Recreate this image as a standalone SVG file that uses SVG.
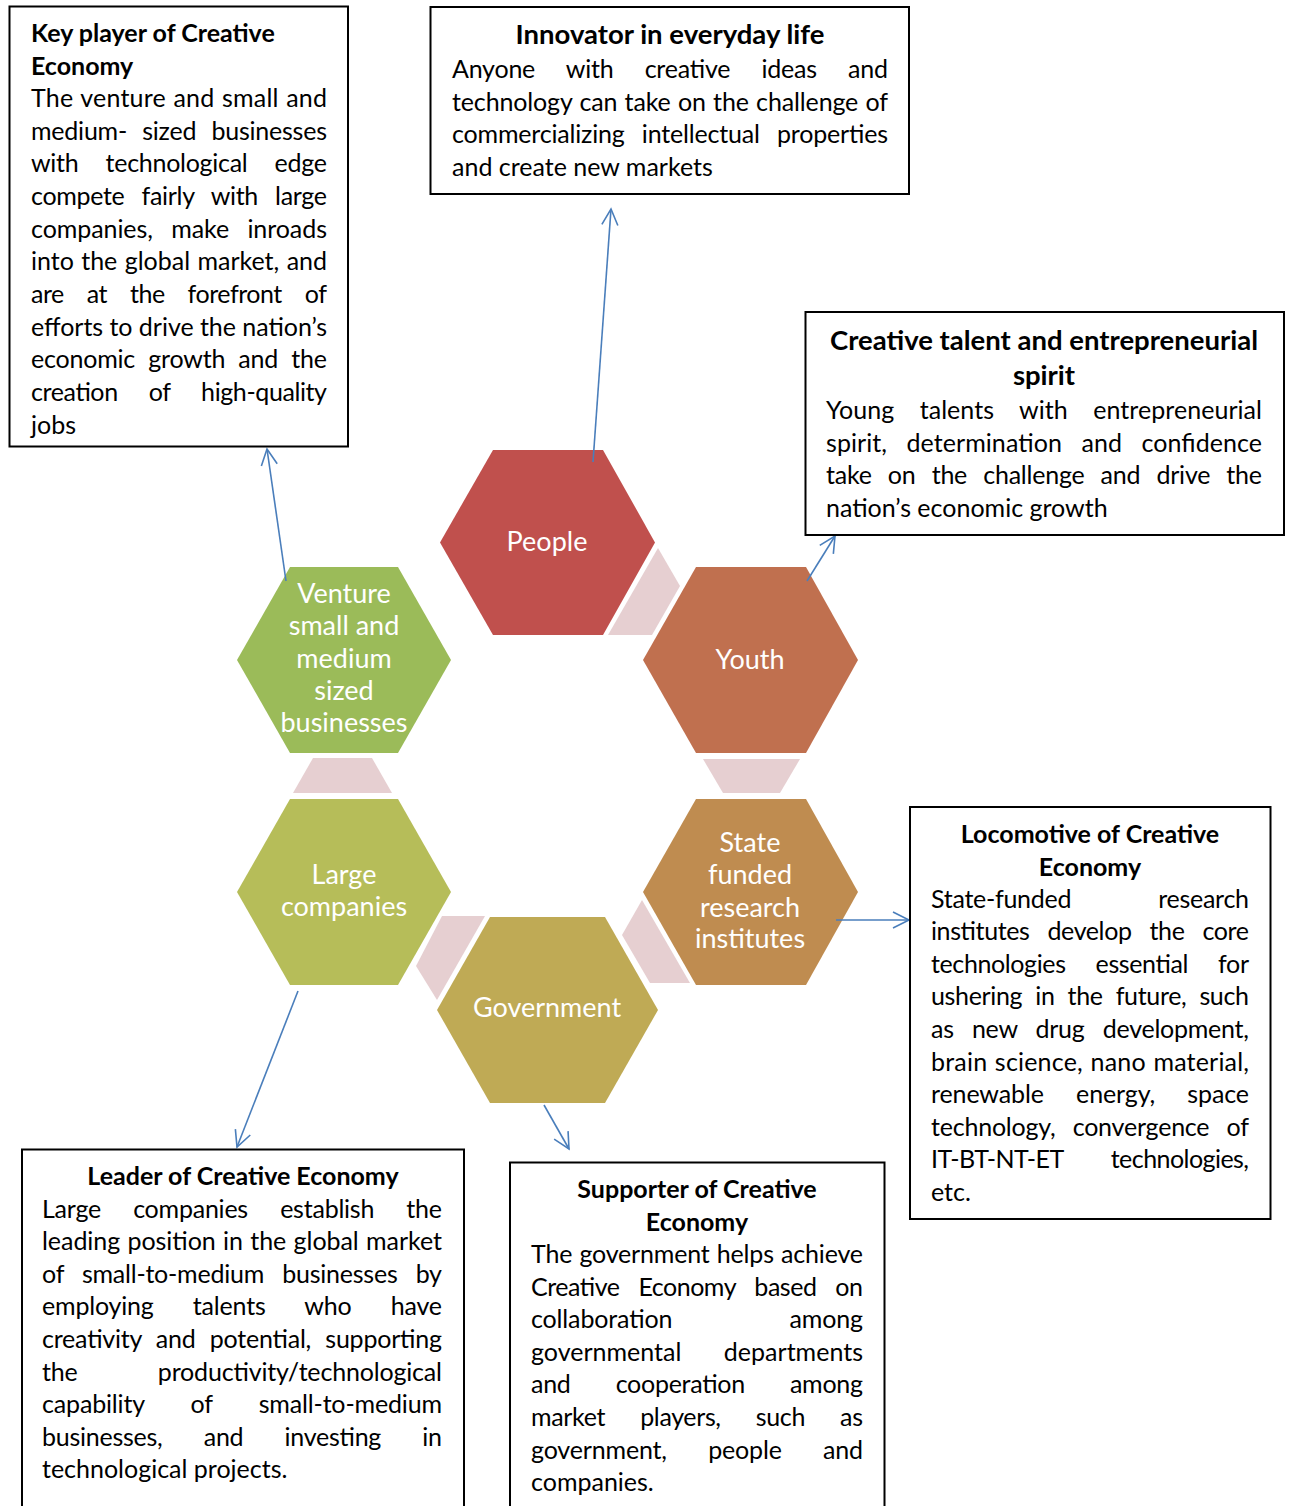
<svg xmlns="http://www.w3.org/2000/svg" width="1292" height="1506" viewBox="0 0 1292 1506">
<defs>
<style>
.box{fill:#fff;stroke:#000;stroke-width:2}
.b{font-family:Lato,"Open Sans",sans-serif;font-size:25px;fill:#000}
.t{font-family:Lato,"Open Sans",sans-serif;font-size:25px;font-weight:bold;fill:#000}
.tl{font-family:Lato,"Open Sans",sans-serif;font-size:27.5px;font-weight:bold;fill:#000}
.h{font-family:Lato,"Open Sans",sans-serif;font-size:27px;fill:#fff;text-anchor:middle}
.c{text-anchor:middle}
.pink{fill:#e6cfd1}
.arr{stroke:#4a7ebb;stroke-width:1.6;fill:none;marker-end:url(#ah)}
</style>
<marker id="ah" markerUnits="userSpaceOnUse" markerWidth="20" markerHeight="20" viewBox="0 0 20 20" refX="18" refY="10" orient="auto">
<path d="M2,2 L18,10 L2,18" fill="none" stroke="#4a7ebb" stroke-width="1.6"/>
</marker>
</defs>
<rect width="1292" height="1506" fill="#fff"/>

<g id="links">
<polygon class="pink" points="658,548 680,586 652,635 608,635"/>
<polygon class="pink" points="313,758 372,758 392,793 293,793"/>
<polygon class="pink" points="703,759 800,759 780,793 723,793"/>
<polygon class="pink" points="442,916 485,916 437,1000 416,966"/>
<polygon class="pink" points="642,900 690,983 650,983 622,935"/>
</g>

<g id="hex-people">
<polygon fill="#c0504d" points="440,542.5 493,450 603,450 655,542.5 603,635 493,635"/>
<text class="h" x="547" y="551">People</text>
</g>
<g id="hex-youth">
<polygon fill="#c0704f" points="643,660 696,567 806,567 858,660 806,753 696,753"/>
<text class="h" x="750" y="669">Youth</text>
</g>
<g id="hex-venture">
<polygon fill="#9bbb59" points="237,660 290,567 398,567 451,660 398,753 290,753"/>
<text class="h" x="344" y="603">Venture</text>
<text class="h" x="344" y="635">small and</text>
<text class="h" x="344" y="668">medium</text>
<text class="h" x="344" y="700">sized</text>
<text class="h" x="344" y="732">businesses</text>
</g>
<g id="hex-large">
<polygon fill="#b6bd59" points="237,892 290,799 398,799 451,892 398,985 290,985"/>
<text class="h" x="344" y="884">Large</text>
<text class="h" x="344" y="916">companies</text>
</g>
<g id="hex-government">
<polygon fill="#bfaa55" points="437,1010 490,917 605,917 658,1010 605,1103 490,1103"/>
<text class="h" x="547" y="1017">Government</text>
</g>
<g id="hex-state">
<polygon fill="#bf8c50" points="643,892 696,799 806,799 858,892 806,985 696,985"/>
<text class="h" x="750" y="852">State</text>
<text class="h" x="750" y="884">funded</text>
<text class="h" x="750" y="917">research</text>
<text class="h" x="750" y="948">institutes</text>
</g>

<g id="connectors">
<line class="arr" x1="593" y1="462" x2="611" y2="209"/>
<line class="arr" x1="807" y1="581" x2="835" y2="536"/>
<line class="arr" x1="286" y1="581" x2="267" y2="449"/>
<line class="arr" x1="298" y1="991" x2="237" y2="1147"/>
<line class="arr" x1="544" y1="1105" x2="569" y2="1149"/>
<line class="arr" x1="836" y1="920" x2="909" y2="920"/>
</g>

<g id="box-key-player">
<rect class="box" x="9.5" y="6.5" width="338.5" height="440"/>
<text class="t" x="31" y="42">Key player of Creative</text>
<text class="t" x="31" y="74.5">Economy</text>
<text class="b" x="31" y="107" textLength="296" lengthAdjust="spacing" word-spacing="1">The venture and small and</text>
<text class="b" x="31" y="139.6" textLength="296" lengthAdjust="spacing" word-spacing="9">medium- sized businesses</text>
<text class="b" x="31" y="172.3" textLength="296" lengthAdjust="spacing" word-spacing="21">with technological edge</text>
<text class="b" x="31" y="204.9" textLength="296" lengthAdjust="spacing" word-spacing="11">compete fairly with large</text>
<text class="b" x="31" y="237.6" textLength="296" lengthAdjust="spacing" word-spacing="12">companies, make inroads</text>
<text class="b" x="31" y="270.2" textLength="296" lengthAdjust="spacing" word-spacing="1">into the global market, and</text>
<text class="b" x="31" y="302.9" textLength="296" lengthAdjust="spacing" word-spacing="17">are at the forefront of</text>
<text class="b" x="31" y="335.5" textLength="296" lengthAdjust="spacing" word-spacing="0">efforts to drive the nation’s</text>
<text class="b" x="31" y="368.2" textLength="296" lengthAdjust="spacing" word-spacing="7">economic growth and the</text>
<text class="b" x="31" y="400.8" textLength="296" lengthAdjust="spacing" word-spacing="25">creation of high-quality</text>
<text class="b" x="31" y="433.5">jobs</text>
</g>

<g id="box-innovator">
<rect class="box" x="430.5" y="7" width="478.5" height="187"/>
<text class="tl c" x="670" y="44">Innovator in everyday life</text>
<text class="b" x="452" y="78" textLength="436" lengthAdjust="spacing" word-spacing="25">Anyone with creative ideas and</text>
<text class="b" x="452" y="110.6" textLength="436" lengthAdjust="spacing" word-spacing="1">technology can take on the challenge of</text>
<text class="b" x="452" y="143.2" textLength="436" lengthAdjust="spacing" word-spacing="11">commercializing intellectual properties</text>
<text class="b" x="452" y="175.8">and create new markets</text>
</g>

<g id="box-creative-talent">
<rect class="box" x="805.5" y="312" width="478.5" height="223"/>
<text class="tl c" x="1044" y="350">Creative talent and entrepreneurial</text>
<text class="tl c" x="1044" y="385">spirit</text>
<text class="b" x="826" y="419" textLength="436" lengthAdjust="spacing" word-spacing="19">Young talents with entrepreneurial</text>
<text class="b" x="826" y="451.6" textLength="436" lengthAdjust="spacing" word-spacing="13">spirit, determination and confidence</text>
<text class="b" x="826" y="484.2" textLength="436" lengthAdjust="spacing" word-spacing="10">take on the challenge and drive the</text>
<text class="b" x="826" y="516.8">nation’s economic growth</text>
</g>

<g id="box-locomotive">
<rect class="box" x="910" y="807" width="360.5" height="412"/>
<text class="t c" x="1090" y="843">Locomotive of Creative</text>
<text class="t c" x="1090" y="875.5">Economy</text>
<text class="b" x="931" y="907.5" textLength="318" lengthAdjust="spacing" word-spacing="81">State-funded research</text>
<text class="b" x="931" y="940.1" textLength="318" lengthAdjust="spacing" word-spacing="12">institutes develop the core</text>
<text class="b" x="931" y="972.7" textLength="318" lengthAdjust="spacing" word-spacing="24">technologies essential for</text>
<text class="b" x="931" y="1005.3" textLength="318" lengthAdjust="spacing" word-spacing="7">ushering in the future, such</text>
<text class="b" x="931" y="1037.9" textLength="318" lengthAdjust="spacing" word-spacing="12">as new drug development,</text>
<text class="b" x="931" y="1070.5" textLength="318" lengthAdjust="spacing" word-spacing="1">brain science, nano material,</text>
<text class="b" x="931" y="1103.1" textLength="318" lengthAdjust="spacing" word-spacing="26">renewable energy, space</text>
<text class="b" x="931" y="1135.7" textLength="318" lengthAdjust="spacing" word-spacing="11">technology, convergence of</text>
<text class="b" x="931" y="1168.3" textLength="318" lengthAdjust="spacing" word-spacing="42">IT-BT-NT-ET technologies,</text>
<text class="b" x="931" y="1200.9">etc.</text>
</g>

<g id="box-leader">
<rect class="box" x="22" y="1149.5" width="442" height="380"/>
<text class="t c" x="243" y="1185">Leader of Creative Economy</text>
<text class="b" x="42" y="1217.5" textLength="400" lengthAdjust="spacing" word-spacing="26">Large companies establish the</text>
<text class="b" x="42" y="1250.1" textLength="400" lengthAdjust="spacing" word-spacing="1">leading position in the global market</text>
<text class="b" x="42" y="1282.7" textLength="400" lengthAdjust="spacing" word-spacing="12">of small-to-medium businesses by</text>
<text class="b" x="42" y="1315.3" textLength="400" lengthAdjust="spacing" word-spacing="33">employing talents who have</text>
<text class="b" x="42" y="1347.9" textLength="400" lengthAdjust="spacing" word-spacing="8">creativity and potential, supporting</text>
<text class="b" x="42" y="1380.5" textLength="400" lengthAdjust="spacing" word-spacing="74">the productivity/technological</text>
<text class="b" x="42" y="1413.1" textLength="400" lengthAdjust="spacing" word-spacing="40">capability of small-to-medium</text>
<text class="b" x="42" y="1445.7" textLength="400" lengthAdjust="spacing" word-spacing="35">businesses, and investing in</text>
<text class="b" x="42" y="1478.3">technological projects.</text>
</g>

<g id="box-supporter">
<rect class="box" x="510" y="1162.5" width="374.5" height="370"/>
<text class="t c" x="697" y="1198">Supporter of Creative</text>
<text class="t c" x="697" y="1230.5">Economy</text>
<text class="b" x="531" y="1263" textLength="332" lengthAdjust="spacing" word-spacing="1">The government helps achieve</text>
<text class="b" x="531" y="1295.6" textLength="332" lengthAdjust="spacing" word-spacing="13">Creative Economy based on</text>
<text class="b" x="531" y="1328.2" textLength="332" lengthAdjust="spacing" word-spacing="111">collaboration among</text>
<text class="b" x="531" y="1360.8" textLength="332" lengthAdjust="spacing" word-spacing="36">governmental departments</text>
<text class="b" x="531" y="1393.4" textLength="332" lengthAdjust="spacing" word-spacing="39">and cooperation among</text>
<text class="b" x="531" y="1426" textLength="332" lengthAdjust="spacing" word-spacing="29">market players, such as</text>
<text class="b" x="531" y="1458.6" textLength="332" lengthAdjust="spacing" word-spacing="35">government, people and</text>
<text class="b" x="531" y="1491.2">companies.</text>
</g>
</svg>
